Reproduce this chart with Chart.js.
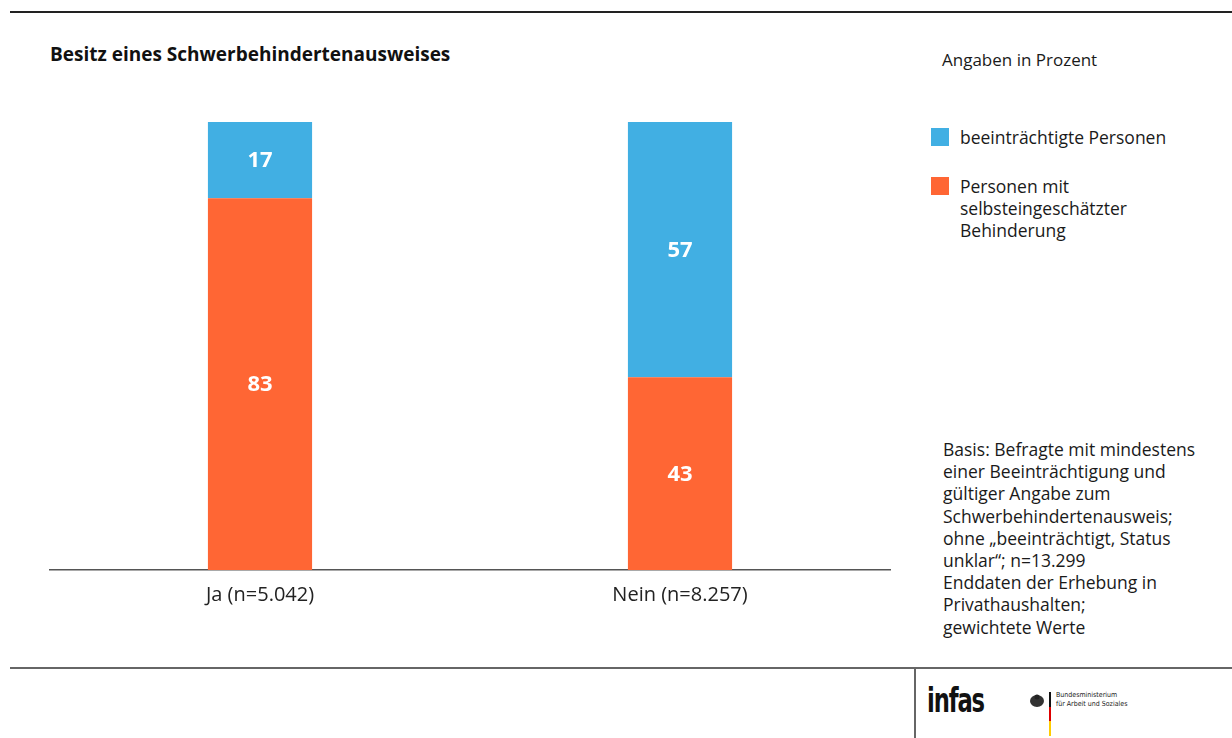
<!DOCTYPE html>
<html lang="de">
<head>
<meta charset="utf-8">
<title>Besitz eines Schwerbehindertenausweises</title>
<script src="https://cdn.jsdelivr.net/npm/chart.js@4.4.1/dist/chart.umd.min.js"></script>
<style>
  html, body { margin: 0; padding: 0; background: #fff; }
  body { width: 1232px; height: 738px; position: relative; overflow: hidden;
         font-family: "Open Sans", "Noto Sans", sans-serif; color: #1a1a1a; }
  .rule-top { position: absolute; left: 10px; right: 0; top: 11px; height: 1.5px; background: #222; }
  .rule-bottom { position: absolute; left: 10px; right: 0; top: 667px; height: 1.5px; background: #666; }
  .rule-v { position: absolute; left: 914px; top: 668px; width: 1.5px; height: 70px; background: #666; }
  h1 { position: absolute; left: 50px; top: 41px; margin: 0; font-size: 19px; font-weight: 700; color: #111; }
  .unit { position: absolute; left: 942px; top: 48px; font-size: 17px; }
  #chartBox { position: absolute; left: 0; top: 0; width: 900px; height: 640px; }
  .legend { position: absolute; left: 931px; top: 126px; font-size: 17.5px; line-height: 22px; }
  .legend .item { position: relative; padding-left: 29px; margin-bottom: 27px; }
  .legend .sw { position: absolute; left: 0; top: 2px; width: 18px; height: 18px; }
  .note { position: absolute; left: 943px; top: 438px; font-size: 17.5px; line-height: 22.2px; }
  .infas { position: absolute; left: 927px; top: 680px; font-family: "DejaVu Sans Condensed", "DejaVu Sans", sans-serif;
           font-weight: 700; font-size: 34px; letter-spacing: -1.5px; transform: scaleX(0.74); transform-origin: left;
           color: #111; }
  .bmas { position: absolute; left: 1028px; top: 690px; }
  .bmas .flag { position: absolute; left: 21px; top: 2px; width: 2px; height: 44px;
                background: linear-gradient(#111 0 33%, #d00 33% 66%, #fc0 66% 100%); }
  .bmas .txt { position: absolute; left: 28px; top: 1px; font-size: 7px; line-height: 9px; white-space: nowrap;
               font-family: "DejaVu Sans Condensed", sans-serif; color: #222; }
</style>
</head>
<body>
<div class="rule-top"></div>
<h1>Besitz eines Schwerbehindertenausweises</h1>
<div class="unit">Angaben in Prozent</div>
<div id="chartBox"><canvas id="chart" width="900" height="640"></canvas></div>
<div class="legend" id="legend"></div>
<div class="note">Basis: Befragte mit mindestens<br>einer Beeinträchtigung und<br>gültiger Angabe zum<br>Schwerbehindertenausweis;<br>ohne „beeinträchtigt, Status<br>unklar“; n=13.299<br>Enddaten der Erhebung in<br>Privathaushalten;<br>gewichtete Werte</div>
<div class="rule-bottom"></div>
<div class="rule-v"></div>
<div class="infas">infas</div>
<div class="bmas">
  <svg width="16" height="16" viewBox="0 0 16 16" style="position:absolute;left:1px;top:3px">
    <ellipse cx="8" cy="8" rx="7" ry="6" fill="#333"/>
    <circle cx="8" cy="4" r="2.5" fill="#222"/>
  </svg>
  <div class="flag"></div>
  <div class="txt">Bundesministerium<br>für Arbeit und Soziales</div>
</div>

<script>
// Kategorien und Werte (Prozent)
const categories = ['Ja (n=5.042)', 'Nein (n=8.257)'];
const selbstLabel = ['Personen mit', 'selbsteingeschätzter', 'Behinderung'];
const beeintLabel = 'beeinträchtigte Personen';
const selbstValues = [83, 43];
const beeintValues = [17, 57];
const colorBlue = '#41afe3';
const colorOrange = '#ff6634';

// Legend (blue first, like the original)
(function buildLegend() {
  const items = [
    { color: colorBlue, text: beeintLabel },
    { color: colorOrange, text: selbstLabel.join('<br>') },
  ];
  document.getElementById('legend').innerHTML = items
    .map((it) => `<div class="item"><span class="sw" style="background:${it.color}"></span>${it.text}</div>`)
    .join('');
})();

// white numbers in the middle of each segment
const segmentLabels = {
  id: 'segmentLabels',
  afterDatasetsDraw(chart) {
    const ctx = chart.ctx;
    ctx.save();
    ctx.fillStyle = '#ffffff';
    ctx.font = 'bold 22px "Open Sans", sans-serif';
    ctx.textAlign = 'center';
    ctx.textBaseline = 'middle';
    chart.data.datasets.forEach((ds, i) => {
      chart.getDatasetMeta(i).data.forEach((bar, j) => {
        const { x, y, base } = bar.getProps(['x', 'y', 'base'], true);
        ctx.fillText(String(ds.data[j]), x, (y + base) / 2 + 1);
      });
    });
    ctx.restore();
  },
};

new Chart(document.getElementById('chart').getContext('2d'), {
  type: 'bar',
  data: {
    labels: categories,
    datasets: [
      { label: selbstLabel.join(' '), data: selbstValues, backgroundColor: colorOrange },
      { label: beeintLabel, data: beeintValues, backgroundColor: colorBlue },
    ],
  },
  options: {
    responsive: false,
    animation: false,
    categoryPercentage: 1,
    barPercentage: 0.248,
    layout: { padding: { left: 50, right: 10, top: 122, bottom: 30 } },
    scales: {
      x: {
        stacked: true,
        grid: { display: false, drawTicks: false },
        border: { display: true, color: '#555', width: 1.5 },
        ticks: { color: '#222', font: { size: 20, family: '"Open Sans", sans-serif' }, padding: 13 },
        afterFit: (scale) => { scale.height = 40; },
      },
      y: { stacked: true, display: false, min: 0, max: 100 },
    },
    plugins: { legend: { display: false }, tooltip: { enabled: false } },
  },
  plugins: [segmentLabels],
});
</script>
</body>
</html>
